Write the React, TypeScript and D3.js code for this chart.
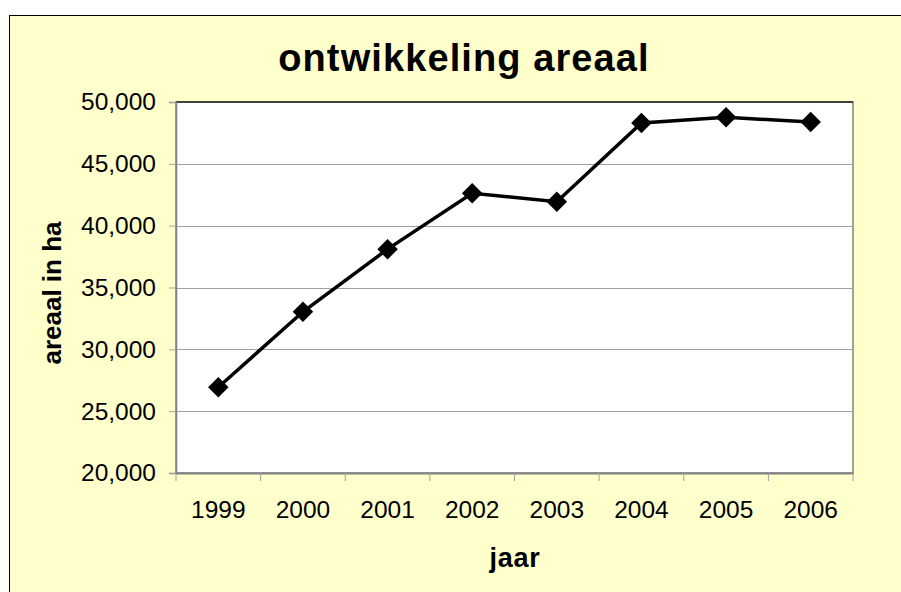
import React, { useEffect, useRef } from 'react';
import * as d3 from 'd3';

const years: string[] = ['1999', '2000', '2001', '2002', '2003', '2004', '2005', '2006'];
const areaal: number[] = [26930, 33040, 38100, 42620, 41940, 48300, 48760, 48380];
const yTicks: number[] = [20000, 25000, 30000, 35000, 40000, 45000, 50000];

const App = () => {
   const svgRef = useRef<SVGSVGElement>(null);

   useEffect(() => {
      const svg = d3.select(svgRef.current);
      svg.selectAll('*').remove();

      const W = 901;
      const H = 592;
      const plot = { left: 176, top: 102, right: 853, bottom: 473 };
      const font = 'Liberation Sans, Arial, sans-serif';

      // chart background with border
      svg.append('rect')
         .attr('x', 9.5).attr('y', 15.5)
         .attr('width', 1000).attr('height', 1000)
         .attr('fill', '#FFFFCC')
         .attr('stroke', '#000')
         .attr('stroke-width', 1);

      const xScale = d3.scaleBand<string>()
         .domain(years)
         .range([plot.left, plot.right])
         .padding(0);

      const yScale = d3.scaleLinear()
         .domain([20000, 50000])
         .range([plot.bottom, plot.top]);

      // plot area
      svg.append('rect')
         .attr('x', plot.left).attr('y', plot.top)
         .attr('width', plot.right - plot.left)
         .attr('height', plot.bottom - plot.top)
         .attr('fill', '#fff')
         .attr('stroke', '#808080')
         .attr('stroke-width', 1.5);

      // grid lines
      svg.selectAll('.grid')
         .data(yTicks.filter(d => d > 20000 && d < 50000))
         .enter().append('line')
         .attr('x1', plot.left).attr('x2', plot.right)
         .attr('y1', d => Math.round(yScale(d)) + 0.5)
         .attr('y2', d => Math.round(yScale(d)) + 0.5)
         .attr('stroke', '#a0a0a0')
         .attr('stroke-width', 1);

      svg.append('line')
         .attr('x1', plot.left).attr('x2', plot.right)
         .attr('y1', plot.top).attr('y2', plot.top)
         .attr('stroke', '#222').attr('stroke-width', 1.5);

      // y axis
      const yAxis = d3.axisLeft(yScale)
         .tickValues(yTicks)
         .tickSize(7)
         .tickPadding(13)
         .tickFormat(d3.format(','));
      const gy = svg.append('g')
         .attr('transform', `translate(${plot.left},0)`)
         .call(yAxis);
      gy.select('.domain').attr('stroke', '#808080').attr('stroke-width', 1.5);
      gy.selectAll('.tick line').attr('stroke', '#a0a0a0');
      gy.selectAll('text')
         .attr('font-family', font)
         .attr('font-size', 24.5)
         .attr('fill', '#000');

      // x axis
      const xAxis = d3.axisBottom(xScale).tickSize(0).tickPadding(28);
      const gx = svg.append('g')
         .attr('transform', `translate(0,${plot.bottom})`)
         .call(xAxis);
      gx.select('.domain').attr('stroke', '#808080').attr('stroke-width', 2);
      gx.selectAll('text')
         .attr('font-family', font)
         .attr('font-size', 24.5)
         .attr('fill', '#000');

      // category boundary ticks
      const bounds = years.map(y => xScale(y) as number).concat([plot.right]);
      svg.selectAll('.xtick')
         .data(bounds)
         .enter().append('line')
         .attr('x1', d => d).attr('x2', d => d)
         .attr('y1', plot.bottom).attr('y2', plot.bottom + 8)
         .attr('stroke', '#a0a0a0')
         .attr('stroke-width', 1);

      // line
      const cx = (d: string) => (xScale(d) as number) + xScale.bandwidth() / 2;
      const line = d3.line<number>()
         .x((d, i) => cx(years[i]))
         .y(d => yScale(d));

      svg.append('path')
         .datum(areaal)
         .attr('fill', 'none')
         .attr('stroke', '#000')
         .attr('stroke-width', 3.5)
         .attr('d', line);

      // diamond markers
      const diamond = d3.symbol().type(d3.symbolSquare).size(210);
      svg.selectAll('.marker')
         .data(areaal)
         .enter().append('path')
         .attr('d', diamond)
         .attr('transform', (d, i) => `translate(${cx(years[i])},${yScale(d)}) rotate(45)`)
         .attr('fill', '#000');

      // titles
      svg.append('text')
         .attr('x', 464).attr('y', 71)
         .attr('text-anchor', 'middle')
         .attr('font-family', font)
         .attr('font-weight', 'bold')
         .attr('font-size', 38)
         .attr('letter-spacing', 1.1)
         .text('ontwikkeling areaal');

      svg.append('text')
         .attr('transform', 'translate(61,293) rotate(-90)')
         .attr('text-anchor', 'middle')
         .attr('font-family', font)
         .attr('font-weight', 'bold')
         .attr('font-size', 26)
         .text('areaal in ha');

      svg.append('text')
         .attr('x', 515).attr('y', 567)
         .attr('text-anchor', 'middle')
         .attr('font-family', font)
         .attr('font-weight', 'bold')
         .attr('font-size', 27)
         .attr('letter-spacing', 0.7)
         .text('jaar');

      svg.attr('width', W).attr('height', H);
   }, []);

   return (
      <svg
         ref={svgRef}
         width={901}
         height={592}
         style={{ position: 'absolute', left: 0, top: 0, background: '#fff' }}
      ></svg>
   );
};

export default App;
